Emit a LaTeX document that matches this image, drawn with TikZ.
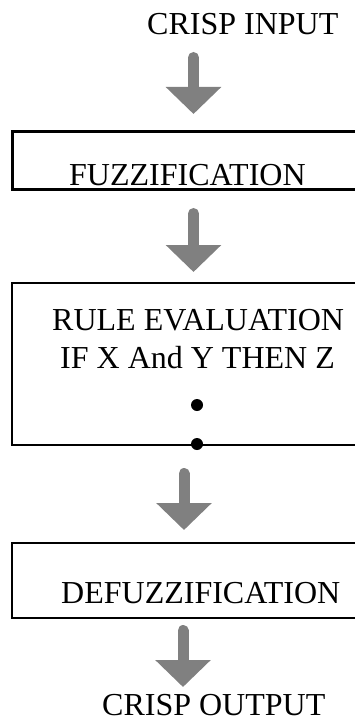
\documentclass[tikz,border=0pt]{standalone}
\usepackage{fontspec}
\setmainfont{Liberation Serif}
\usetikzlibrary{arrows.meta}
\definecolor{flowgray}{HTML}{808080}
\begin{document}
\begin{tikzpicture}[x=1pt,y=-1pt,
  lbl/.style={anchor=base west,inner sep=0pt,font=\fontsize{32}{37}\selectfont},
  stage/.style={draw=black,anchor=north west,minimum width=360pt,inner sep=0pt},
  flow/.style={draw=flowgray,line width=11pt,line cap=round,
    -{Triangle[width=54pt,length=27pt]}},
  dot/.style={circle,fill=black,inner sep=0pt,minimum size=12pt}]
\useasboundingbox (0,0) rectangle (355,719);

% stage boxes (open to the right)
\node[stage,line width=2.6pt,minimum height=58pt] (fuzz) at (11,130) {};
\node[stage,line width=2pt,minimum height=162pt] (rule) at (11,282) {};
\node[stage,line width=1.6pt,minimum height=75pt] (defuzz) at (11,542) {};

% texts
\node[lbl] (cin) at (147,35) {CRISP INPUT};
\node[lbl] (tfuzz) at (69,186) {FUZZIFICATION};
\node[lbl] (trule) at (52,330) {RULE EVALUATION};
\node[lbl] (tif) at (60,368) {IF X And Y THEN Z};
\node[lbl] (tdef) at (61,603) {DEFUZZIFICATION};
\node[lbl] (cout) at (102,715) {CRISP OUTPUT};

% continuation dots
\node[dot] (d1) at (197,405) {};
\node[dot] (d2) at (197,444) {};

% arrow end points
\coordinate (a1s) at (193.5,57.5);
\coordinate (a1e) at (193.5,114);
\coordinate (a2s) at (193.5,213.5);
\coordinate (a2e) at (193.5,272);
\coordinate (a3s) at (184,473.5);
\coordinate (a3e) at (184,530);
\coordinate (a4s) at (183,630.5);
\coordinate (a4e) at (183,687);

\draw[flow] (a1s) -- (a1e);
\draw[flow] (a2s) -- (a2e);
\draw[flow] (a3s) -- (a3e);
\draw[flow] (a4s) -- (a4e);
\end{tikzpicture}
\end{document}
